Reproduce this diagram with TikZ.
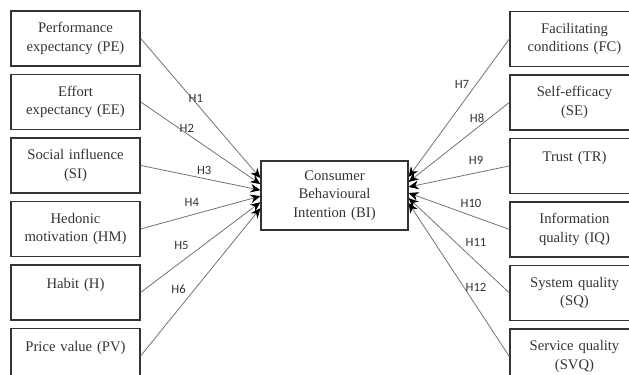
\documentclass[tikz,border=0pt]{standalone}
\usepackage{fontspec}
\setmainfont{Liberation Serif}
\newfontfamily\hypfont{Carlito}
\usepackage{tikz}
\usetikzlibrary{positioning,arrows.meta}
\tikzstyle{construct} = [rectangle, minimum width=96.75pt, minimum height=41.25pt, text width=90pt, align=center, draw=black!80, line width=1.1pt, text=black!80, font=\fontsize{11}{14}\selectfont, inner sep=2pt]
\tikzstyle{target} = [construct, minimum width=110pt, minimum height=52pt, text width=100pt]
\tikzstyle{arrow} = [draw=black!55, line width=0.6pt, -{Stealth[black,length=7.5pt,width=6.5pt]}]
\tikzstyle{hyp} = [font=\hypfont\fontsize{9.5}{11}\selectfont, text=black!80, inner sep=0pt]

\begin{document}
\begin{tikzpicture}[x=0.75pt,y=-0.75pt]
        \useasboundingbox (0,0) rectangle (629,375);
        % left column
        \node (PE) [construct] at (75.5,38.5) {Performance\\ expectancy (PE)};
        \node (EE) [construct, below = 5.25pt of PE] {Effort\\ expectancy (EE)};
        \node (SI) [construct, below = 5.25pt of EE] {Social influence\\ (SI)};
        \node (HM) [construct, below = 5.25pt of SI] {Hedonic\\ motivation (HM)};
        \node (H) [construct, below = 5.25pt of HM] {Habit (H)\\ \mbox{}};
        \node (PV) [construct, below = 5.25pt of H] {Price value (PV)\\ \mbox{}};
        % right column
        \node (FC) [construct] at (574.5,39) {Facilitating\\ conditions (FC)};
        \node (SE) [construct, below = 5.25pt of FC] {Self-efficacy\\ (SE)};
        \node (TR) [construct, below = 5.25pt of SE] {Trust (TR)\\ \mbox{}};
        \node (IQ) [construct, below = 5.25pt of TR] {Information\\ quality (IQ)};
        \node (SQ) [construct, below = 5.25pt of IQ] {System quality\\ (SQ)};
        \node (SVQ) [construct, below = 5.25pt of SQ] {Service quality\\ (SVQ)};
        % centre
        \node (BI) [target] at (334.5,195.5) {Consumer\\ Behavioural\\ Intention (BI)};

        \draw [arrow] (PE.east) -- node (h1) [hyp, pos=0.46, yshift=3.5pt] {H1} ([yshift=13pt]BI.west);
        \draw [arrow] (EE.east) -- node (h2) [hyp, pos=0.385, yshift=4pt] {H2} ([yshift=8.5pt]BI.west);
        \draw [arrow] (SI.east) -- node (h3) [hyp, pos=0.53, yshift=5.8pt] {H3} ([yshift=4pt]BI.west);
        \draw [arrow] (HM.east) -- node (h4) [hyp, pos=0.427, yshift=9.7pt] {H4} ([yshift=-0.5pt]BI.west);
        \draw [arrow] (H.east) -- node (h5) [hyp, pos=0.34, yshift=12pt] {H5} ([yshift=-5pt]BI.west);
        \draw [arrow] (PV.east) -- node (h6) [hyp, pos=0.316, yshift=15pt] {H6} ([yshift=-9.5pt]BI.west);
        \draw [arrow] (FC.west) -- node (h7) [hyp, pos=0.47, yshift=14.3pt] {H7} ([yshift=13.9pt]BI.east);
        \draw [arrow] (SE.west) -- node (h8) [hyp, pos=0.32, yshift=7.2pt] {H8} ([yshift=10.1pt]BI.east);
        \draw [arrow] (TR.west) -- node (h9) [hyp, pos=0.33, yshift=9.5pt] {H9} ([yshift=6.4pt]BI.east);
        \draw [arrow] (IQ.west) -- node (h10) [hyp, pos=0.38, yshift=8.8pt] {H10} ([yshift=1.9pt]BI.east);
        \draw [arrow] (SQ.west) -- node (h11) [hyp, pos=0.33, yshift=14.3pt] {H11} ([yshift=-1.9pt]BI.east);
        \draw [arrow] (SVQ.west) -- node (h12) [hyp, pos=0.33, yshift=13.4pt] {H12} ([yshift=-5.6pt]BI.east);
    \end{tikzpicture}
\end{document}
